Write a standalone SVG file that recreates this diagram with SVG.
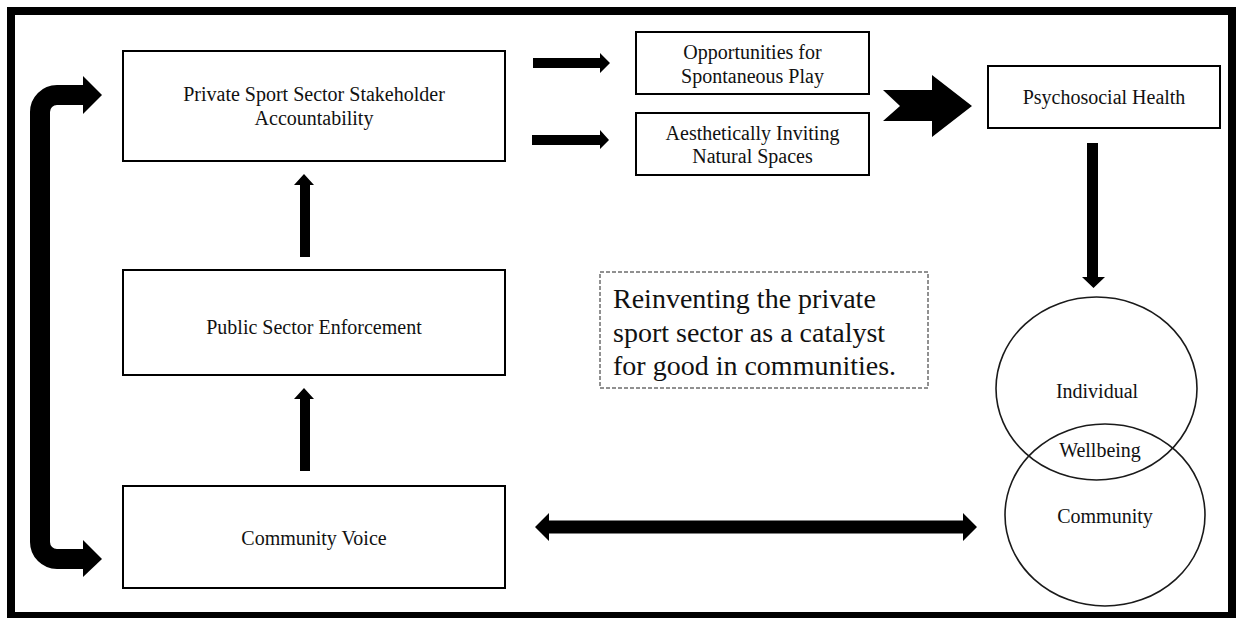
<svg xmlns="http://www.w3.org/2000/svg" width="1236" height="618" viewBox="0 0 1236 618">
  <style>
    .box { fill: #ffffff; stroke: #000000; stroke-width: 2; }
    .ring { fill: none; stroke: #1a1a1a; stroke-width: 1.6; }
    .note { fill: #ffffff; stroke: #222222; stroke-width: 1; stroke-dasharray: 4 2; }
    .label { font-family: "Liberation Serif", "Times New Roman", serif; font-size: 20px; fill: #111111; text-anchor: middle; }
    .big { font-family: "Liberation Serif", "Times New Roman", serif; font-size: 28px; fill: #111111; }
    .arrow { fill: #000000; stroke: none; }
  </style>

  <!-- page background and heavy frame -->
  <rect x="0" y="0" width="1236" height="618" fill="#ffffff"/>
  <rect x="11" y="11" width="1221" height="605" fill="none" stroke="#000000" stroke-width="8"/>

  <!-- connectors -->
  <g id="connectors">
    <!-- feedback loop between community voice and private accountability -->
    <path d="M 84 95 H 57 A 17 17 0 0 0 40 112 V 542 A 17 17 0 0 0 57 559 H 84" fill="none" stroke="#000000" stroke-width="20"/>
    <polygon class="arrow" points="83,76 102,95 83,114"/>
    <polygon class="arrow" points="83,540 102,559 83,577"/>

    <!-- upward arrows in the left column -->
    <polygon class="arrow" points="300,257 300,185 294,185 304,174 314,185 310,185 310,257"/>
    <polygon class="arrow" points="300,471 300,399 294,399 304,388 314,399 310,399 310,471"/>

    <!-- accountability to the two outcome boxes -->
    <polygon class="arrow" points="533,58 600,58 600,53 610,63 600,73 600,68 533,68"/>
    <polygon class="arrow" points="532,135 600,135 600,130 609,140 600,149 600,145 532,145"/>

    <!-- notched arrow to psychosocial health -->
    <polygon class="arrow" points="883,90 932,90 932,75 972,106 932,137 932,121 883,121 900,106"/>

    <!-- psychosocial health down to wellbeing -->
    <polygon class="arrow" points="1087,143 1098,143 1098,277 1105,277 1093.5,288 1082,277 1087,277"/>

    <!-- two-way link between community voice and wellbeing -->
    <polygon class="arrow" points="535,527 549,513 549,520.5 963,520.5 963,513 977,527 963,541 963,533.5 549,533.5 549,541"/>
  </g>

  <g id="private-accountability">
    <rect class="box" x="123" y="51" width="382" height="110"/>
    <text class="label" x="314" y="101">Private Sport Sector Stakeholder</text>
    <text class="label" x="314" y="125">Accountability</text>
  </g>

  <g id="public-enforcement">
    <rect class="box" x="123" y="270" width="382" height="105"/>
    <text class="label" x="314" y="334">Public Sector Enforcement</text>
  </g>

  <g id="community-voice">
    <rect class="box" x="123" y="486" width="382" height="102"/>
    <text class="label" x="314" y="545">Community Voice</text>
  </g>

  <g id="spontaneous-play">
    <rect class="box" x="636" y="32" width="233" height="62"/>
    <text class="label" x="752.5" y="59">Opportunities for</text>
    <text class="label" x="752.5" y="83">Spontaneous Play</text>
  </g>

  <g id="natural-spaces">
    <rect class="box" x="636" y="113" width="233" height="62"/>
    <text class="label" x="752.5" y="140">Aesthetically Inviting</text>
    <text class="label" x="752.5" y="163">Natural Spaces</text>
  </g>

  <g id="psychosocial-health">
    <rect class="box" x="988" y="66" width="232" height="62"/>
    <text class="label" x="1104" y="104">Psychosocial Health</text>
  </g>

  <g id="wellbeing">
    <ellipse class="ring" cx="1096.5" cy="388.5" rx="100.5" ry="91.5"/>
    <ellipse class="ring" cx="1105" cy="515" rx="100" ry="91"/>
    <text class="label" x="1097" y="398">Individual</text>
    <text class="label" x="1100" y="457">Wellbeing</text>
    <text class="label" x="1105" y="523">Community</text>
  </g>

  <g id="theme-note">
    <rect class="note" x="600" y="272" width="328" height="116"/>
    <text class="big" x="613" y="308">Reinventing the private</text>
    <text class="big" x="613" y="342">sport sector as a catalyst</text>
    <text class="big" x="613" y="375">for good in communities.</text>
  </g>
</svg>
